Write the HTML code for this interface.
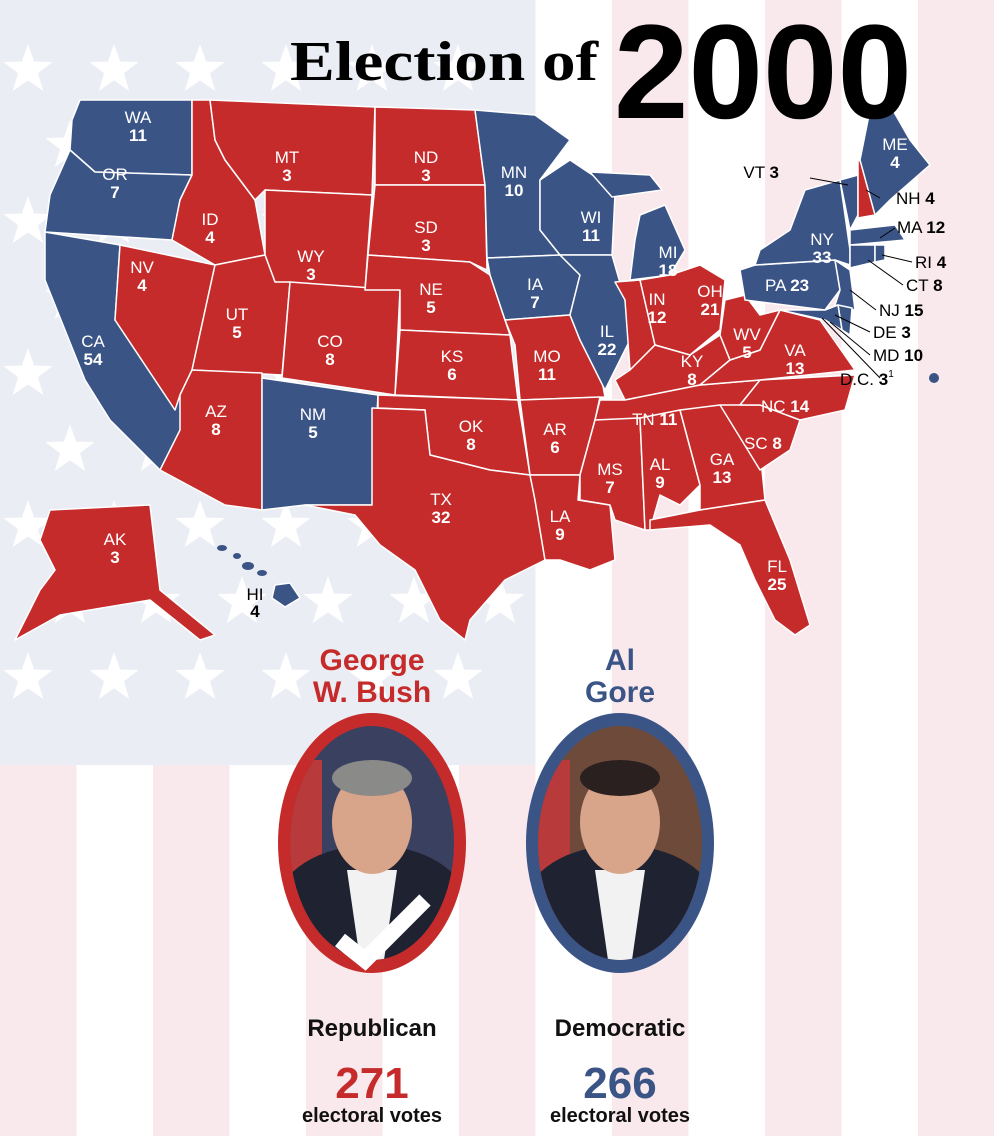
<!DOCTYPE html>
<html><head><meta charset="utf-8"><style>
body{margin:0;width:994px;height:1136px;overflow:hidden;font-family:"Liberation Sans",sans-serif}
svg{display:block}
</style></head><body>
<svg id="s" width="994" height="1136" viewBox="0 0 994 1136">
<g id="bg"></g>
<g id="map"></g>
<g id="labels"></g>
<text x="290" y="80" font-family="Liberation Serif,serif" font-weight="bold" font-size="56" textLength="308" lengthAdjust="spacingAndGlyphs">Election of</text>
<text x="614" y="118" font-family="Liberation Sans,sans-serif" font-weight="bold" font-size="134" textLength="298" lengthAdjust="spacingAndGlyphs">2000</text>
<g id="cands"></g>
</svg>
<script>
const states=['WA','OR','CA','NV','ID','MT','WY','UT','AZ','CO','NM','ND','SD','NE','KS','OK','TX','MN','IA','MO','AR','LA','WI','IL','MI','IN','OH','KY','TN','MS','AL','GA','FL','SC','NC','VA','WV','PA','NY','VT','NH','ME','MA','CT','RI','NJ','DE','MD','AK','HI'];
const votes=[11,7,54,4,4,3,3,5,8,8,5,3,3,5,6,8,32,10,7,11,6,9,11,22,18,12,21,8,11,7,9,13,25,8,14,13,5,23,33,3,4,4,12,8,4,15,3,10,3,4];
const winner=['D','D','D','R','R','R','R','R','R','R','D','R','R','R','R','R','R','D','D','R','R','R','D','D','D','R','R','R','R','R','R','R','R','R','R','R','R','D','D','D','R','D','D','D','D','D','D','D','R','D'];
const RED='#c62b2b',BLUE='#3b5486';
const NS='http://www.w3.org/2000/svg';
function mk(t,a,p){const e=document.createElementNS(NS,t);for(const k in a)e.setAttribute(k,a[k]);p.appendChild(e);return e;}
const bg=document.getElementById('bg');
let r=mk('rect',{x:0,y:0,width:994,height:1136,fill:'#fff'},bg);


for(let i=0;i<7;i++){let st=mk('rect',{x:i*153,y:0,width:76.5,height:1136,fill:'#f9e8ec'},bg);

}
let can=mk('rect',{x:0,y:0,width:535,height:765,fill:'#eaedf3'},bg);


function star(cx,cy,R){let p=[];for(let i=0;i<10;i++){let a=-Math.PI/2+i*Math.PI/5,rr=i%2?R*0.4:R;p.push((cx+rr*Math.cos(a)).toFixed(1)+','+(cy+rr*Math.sin(a)).toFixed(1));}
let s=mk('polygon',{points:p.join(' '),fill:'#fff'},bg);

}
for(let row=0;row<9;row++)for(let c=0;c<7;c++){let x=(row%2?70:28)+c*86,y=70+row*76;if(x<520)star(x,y,26);}
const shapes={
WA:[[80,100],[192,100],[192,175],[95,172],[70,150],[72,120]],
OR:[[70,150],[95,172],[192,175],[180,200],[172,240],[45,232],[50,195]],
CA:[[45,232],[120,245],[115,320],[225,420],[215,470],[160,470],[110,420],[85,380],[65,330],[45,280]],
NV:[[120,245],[215,265],[192,370],[180,395],[175,410],[115,320]],
ID:[[192,100],[210,100],[215,140],[225,160],[255,200],[265,255],[215,265],[172,240],[180,200],[192,175]],
MT:[[210,100],[375,107],[372,195],[265,190],[255,200],[225,160],[215,140]],
WY:[[265,190],[372,195],[365,290],[275,282],[265,255]],
UT:[[215,265],[265,255],[275,282],[290,282],[282,375],[192,370]],
AZ:[[192,370],[262,373],[262,510],[225,505],[160,470],[180,430],[180,395]],
CO:[[290,282],[400,290],[395,395],[282,378]],
NM:[[262,378],[378,395],[372,505],[305,505],[262,510]],
ND:[[375,107],[475,110],[485,185],[375,185]],
SD:[[375,185],[485,185],[487,270],[470,262],[368,255]],
NE:[[368,255],[470,262],[490,275],[510,335],[400,330],[400,290],[365,290]],
KS:[[400,330],[510,335],[518,400],[395,395]],
OK:[[378,395],[518,400],[530,475],[490,470],[430,455],[425,410],[378,408]],
TX:[[372,408],[425,410],[430,455],[490,470],[530,475],[535,500],[545,560],[505,580],[470,620],[465,640],[440,620],[415,570],[380,545],[355,515],[305,505],[372,505]],
MN:[[475,110],[535,115],[570,140],[540,180],[540,230],[560,255],[487,258],[485,185]],
IA:[[487,258],[560,255],[580,275],[570,315],[505,320],[490,275]],
MO:[[505,320],[570,315],[580,340],[600,370],[605,397],[520,400],[515,345]],
AR:[[520,400],[600,397],[595,420],[580,475],[530,475]],
LA:[[530,475],[580,475],[578,500],[610,505],[615,560],[590,570],[560,560],[545,560],[535,500]],
WI:[[540,180],[570,160],[600,180],[615,195],[612,255],[560,255],[540,230]],
IL:[[560,255],[612,255],[625,300],[630,340],[615,370],[605,390],[580,340],[570,315],[580,275]],
MI:[[640,215],[665,205],[685,250],[670,275],[630,280],[635,240]],
IN:[[615,282],[640,280],[655,345],[630,370],[625,300]],
OH:[[640,280],[670,275],[700,265],[725,280],[720,330],[690,355],[655,345]],
KY:[[630,370],[655,345],[690,355],[720,335],[730,360],[700,385],[625,400],[615,380]],
TN:[[600,400],[625,400],[700,385],[760,380],[740,405],[690,410],[600,430],[595,420]],
MS:[[595,420],[640,418],[645,530],[615,520],[610,505],[580,500],[580,475]],
AL:[[640,418],[680,410],[700,485],[680,505],[660,495],[650,530],[645,530]],
GA:[[680,410],[720,405],[760,450],[765,500],[700,510],[700,485]],
FL:[[650,520],[700,510],[765,500],[790,560],[810,625],[795,635],[775,620],[755,580],[740,545],[710,525],[650,530]],
SC:[[720,405],[760,405],[800,420],[790,450],[760,470]],
NC:[[740,405],[760,380],[855,375],[845,410],[800,420],[760,405]],
VA:[[700,385],[730,360],[760,350],[780,310],[820,320],[855,370],[760,380]],
WV:[[720,335],[725,300],[745,295],[760,315],[780,310],[760,350],[730,360]],
PA:[[740,270],[755,265],[835,260],[840,290],[825,310],[745,300]],
NY:[[755,265],[760,250],[790,230],[805,190],[840,180],[850,250],[850,265],[835,260]],
VT:[[840,180],[858,175],[858,215],[850,230]],
NH:[[858,160],[868,165],[875,215],[858,218]],
ME:[[860,160],[870,110],[890,105],[910,140],[930,165],[890,200],[875,215]],
MA:[[850,230],[895,225],[905,240],[850,245]],
CT:[[850,245],[875,245],[875,262],[850,268]],
RI:[[875,245],[885,245],[885,260],[875,262]],
NJ:[[835,260],[850,270],[855,310],[835,305],[840,290]],
DE:[[838,305],[852,308],[850,335],[842,330]],
MD:[[780,310],[825,310],[838,305],[842,330],[825,320]],
AK:[[50,510],[150,505],[160,590],[215,635],[200,640],[150,600],[60,615],[15,640],[40,590],[55,570],[40,540]],
HI:[[275,585],[290,583],[300,598],[285,607],[272,598]]
};
const map=document.getElementById('map');
states.forEach((s,i)=>{const p=mk('polygon',{points:shapes[s].map(q=>q.join(',')).join(' '),fill:winner[i]==='R'?RED:BLUE,stroke:'#fff','stroke-width':1.5,'stroke-linejoin':'round'},map);

});
let up=mk('polygon',{points:'590,172 650,175 662,190 612,197',fill:BLUE,stroke:'#fff','stroke-width':1.5},map);


[[222,548,5,3],[237,556,4,3],[248,566,6,4],[262,573,5,3]].forEach(h=>{let e=mk('ellipse',{cx:h[0],cy:h[1],rx:h[2],ry:h[3],fill:BLUE},map);

});
let dc=mk('circle',{cx:934,cy:378,r:5,fill:BLUE},map);


const inside={WA:[138,123],OR:[115,180],CA:[93,347],NV:[142,273],ID:[210,225],MT:[287,163],WY:[311,262],UT:[237,320],AZ:[216,417],CO:[330,347],NM:[313,420],ND:[426,163],SD:[426,233],NE:[431,295],KS:[452,362],OK:[471,432],TX:[441,505],MN:[514,178],IA:[535,290],MO:[547,362],AR:[555,435],LA:[560,522],WI:[591,223],IL:[607,337],MI:[668,258],IN:[657,305],OH:[710,297],KY:[692,367],WV:[747,340],VA:[795,356],MS:[610,475],AL:[660,470],GA:[722,465],FL:[777,572],NY:[822,245],AK:[115,545],ME:[895,150]};
const inline={TN:[632,425],NC:[761,412],SC:[744,449],PA:[765,291]};
const outside={VT:[779,178,'end'],NH:[896,204],MA:[897,233],RI:[915,268],CT:[906,291],NJ:[879,316],DE:[873,338],MD:[873,361],HI:[255,600]};
const L=document.getElementById('labels');
states.forEach((s,i)=>{
 if(inside[s]){const[x,y]=inside[s];
  let t=mk('text',{x:x,y:y,'text-anchor':'middle','font-size':17,fill:'#fff'},L);t.textContent=s;
  
  
  let n=mk('text',{x:x,y:y+18,'text-anchor':'middle','font-size':17,'font-weight':'bold',fill:'#fff'},L);n.textContent=votes[i];
  
  }
 else if(inline[s]){const[x,y]=inline[s];
  let t=mk('text',{x:x,y:y,'font-size':17,fill:'#fff'},L);t.innerHTML=s+' <tspan font-weight="bold">'+votes[i]+'</tspan>';
  
  }
 else if(outside[s]){const o=outside[s];
  if(s==='HI'){let t=mk('text',{x:o[0],y:o[1],'text-anchor':'middle','font-size':17,fill:'#000'},L);t.textContent=s;
   
   
   let n=mk('text',{x:o[0],y:o[1]+17,'text-anchor':'middle','font-size':17,'font-weight':'bold',fill:'#000'},L);n.textContent=votes[i];
   
   return;}
  let t=mk('text',{x:o[0],y:o[1],'font-size':17,fill:'#000','text-anchor':o[2]||'start'},L);t.innerHTML=s+' <tspan font-weight="bold">'+votes[i]+'</tspan>';
  
  }
});
let dct=mk('text',{x:840,y:385,'font-size':17,fill:'#000'},L);dct.innerHTML='D.C. <tspan font-weight="bold">3</tspan><tspan font-size="10" dy="-8">1</tspan>';


[[810,178,848,185],[880,198,866,190],[895,228,880,238],[912,262,882,255],[903,285,868,260],[876,310,850,290],[870,332,835,315],[870,355,830,322],[880,378,822,318]].forEach(l=>{let ln=mk('line',{x1:l[0],y1:l[1],x2:l[2],y2:l[3],stroke:'#000','stroke-width':1},L);

});
const names=[['George','W. Bush'],['Al','Gore']],parties=['Republican','Democratic'],ev=[271,266],cx=[372,620],cols=[RED,BLUE];
const C=document.getElementById('cands');
for(let k=0;k<2;k++){const x=cx[k];
 names[k].forEach((w,j)=>{let t=mk('text',{x:x,y:670+j*32,'text-anchor':'middle','font-size':30,'font-weight':'bold',fill:cols[k]},C);t.textContent=w;
  
  });
 let o=mk('ellipse',{cx:x,cy:843,rx:94,ry:130,fill:cols[k]},C);
 
 
 const id='cl'+k;let cp=mk('clipPath',{id:id},C);mk('ellipse',{cx:x,cy:843,rx:82,ry:117},cp);
 let g=mk('g',{'clip-path':'url(#'+id+')'},C);
 
 
 mk('rect',{x:x-90,y:720,width:180,height:250,fill:k?'#6e4a3a':'#3a4060'},g);
 mk('rect',{x:x-90,y:760,width:40,height:150,fill:'#b83a3a'},g);
 mk('ellipse',{cx:x,cy:905,rx:95,ry:60,fill:'#1f2230'},g);
 mk('polygon',{points:(x-25)+',870 '+(x+25)+',870 '+(x+12)+',960 '+(x-12)+',960',fill:'#f2f2f2'},g);
 mk('ellipse',{cx:x,cy:822,rx:40,ry:52,fill:'#d9a58a'},g);
 mk('ellipse',{cx:x,cy:778,rx:40,ry:18,fill:k?'#2a2020':'#8a8a88'},g);
 let p=mk('text',{x:x,y:1036,'text-anchor':'middle','font-size':24,'font-weight':'bold',fill:'#111'},C);p.textContent=parties[k];
 
 
 let e=mk('text',{x:x,y:1098,'text-anchor':'middle','font-size':44,'font-weight':'bold',fill:cols[k]},C);e.textContent=ev[k];
 
 
 let v=mk('text',{x:x,y:1122,'text-anchor':'middle','font-size':20,'font-weight':'bold',fill:'#111'},C);v.textContent='electoral votes';
 
 
}
let chk=mk('polyline',{points:'340,940 365,960 425,900',fill:'none',stroke:'#fff','stroke-width':16},C);


</script>
</body></html>
